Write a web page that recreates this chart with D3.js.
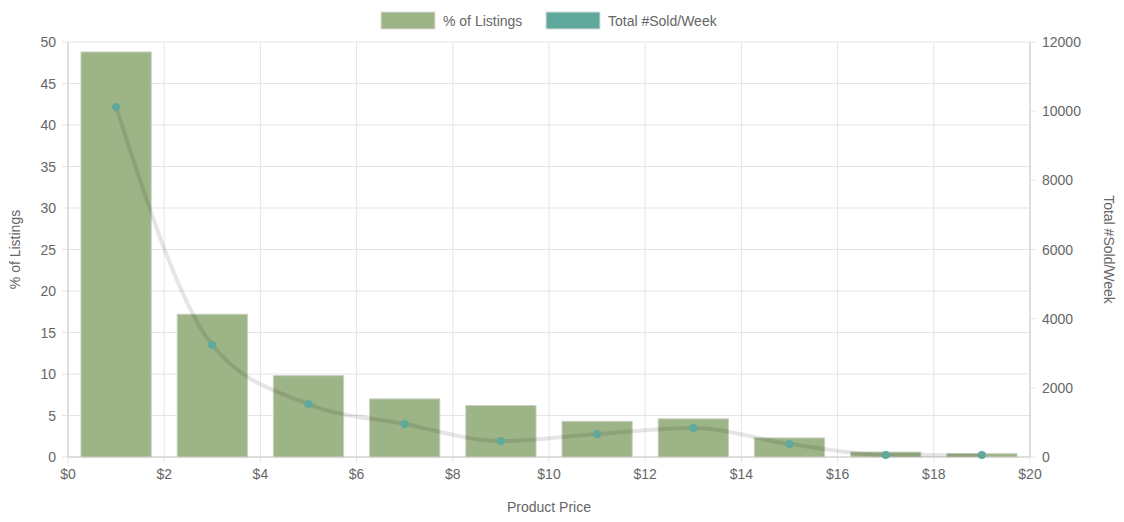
<!DOCTYPE html><html><head><meta charset="utf-8">
<script src="https://cdn.jsdelivr.net/npm/d3@7"></script>
<style>body{margin:0;background:#fff;font-family:"Helvetica Neue",Arial,"Liberation Sans",sans-serif}</style></head><body>
<svg id="c" width="1124" height="522"></svg>
<script>
const centers=[1,3,5,7,9,11,13,15,17,19];
const pctListings=[48.8,17.2,9.8,7.0,6.2,4.3,4.6,2.3,0.6,0.4];
const soldWeek=[10120,3240,1530,955,460,665,840,375,60,60];
const xTicks=[0,2,4,6,8,10,12,14,16,18,20];
const yLeftTicks=[0,5,10,15,20,25,30,35,40,45,50];
const yRightTicks=[0,2000,4000,6000,8000,10000,12000];
const svg=d3.select("#c");
const L=68,R=1030,T=42,B=457;
const x=d3.scaleLinear().domain([0,20]).range([L,R]);
const yl=d3.scaleLinear().domain([0,50]).range([B,T]);
const yr=d3.scaleLinear().domain([0,12000]).range([B,T]);
const txt="#666",grid="#e5e5e5";
const g=svg.append("g");
xTicks.forEach(t=>g.append("line").attr("x1",x(t)).attr("x2",x(t)).attr("y1",T).attr("y2",B+6).attr("stroke",grid));
yLeftTicks.forEach(t=>g.append("line").attr("x1",L-6).attr("x2",R).attr("y1",yl(t)).attr("y2",yl(t)).attr("stroke",grid));
yRightTicks.forEach(t=>g.append("line").attr("x1",R).attr("x2",R+6).attr("y1",yr(t)).attr("y2",yr(t)).attr("stroke",grid));
g.append("line").attr("x1",L).attr("x2",L).attr("y1",T).attr("y2",B).attr("stroke","#ccc");
g.append("line").attr("x1",R).attr("x2",R).attr("y1",T).attr("y2",B).attr("stroke","#ccc");
const bw=x(1.46)-x(0);
svg.selectAll(".bar").data(centers).enter().append("rect")
 .attr("x",d=>x(d)-bw/2).attr("width",bw)
 .attr("y",(d,i)=>yl(pctListings[i])).attr("height",(d,i)=>B-yl(pctListings[i]))
 .attr("fill","#9db486").attr("stroke","#c9cfc3").attr("stroke-width",1);
g.append("line").attr("x1",L).attr("x2",R).attr("y1",B).attr("y2",B).attr("stroke","#ccc");
const line=d3.line().x((d,i)=>x(centers[i])).y(d=>yr(d)).curve(d3.curveMonotoneX);
svg.append("path").datum(soldWeek).attr("d",line).attr("fill","none").attr("stroke","rgba(0,0,0,0.1)").attr("stroke-width",4);
svg.selectAll(".pt").data(soldWeek).enter().append("circle").attr("cx",(d,i)=>x(centers[i])).attr("cy",d=>yr(d)).attr("r",4).attr("fill","#5fa89c");
const fs="14px";
xTicks.forEach(t=>svg.append("text").attr("x",x(t)).attr("y",B+22).attr("text-anchor","middle").attr("fill",txt).style("font-size",fs).text("$"+t));
yLeftTicks.forEach(t=>svg.append("text").attr("x",L-12).attr("y",yl(t)+5).attr("text-anchor","end").attr("fill",txt).style("font-size",fs).text(t));
yRightTicks.forEach(t=>svg.append("text").attr("x",R+12).attr("y",yr(t)+5).attr("fill",txt).style("font-size",fs).text(t));
svg.append("text").attr("x",(L+R)/2).attr("y",512).attr("text-anchor","middle").attr("fill",txt).style("font-size",fs).text("Product Price");
svg.append("text").attr("transform",`translate(20,${(T+B)/2}) rotate(-90)`).attr("text-anchor","middle").attr("fill",txt).style("font-size",fs).text("% of Listings");
svg.append("text").attr("transform",`translate(1104,${(T+B)/2}) rotate(90)`).attr("text-anchor","middle").attr("fill",txt).style("font-size",fs).text("Total #Sold/Week");
const leg=[["% of Listings","#9db486",381],["Total #Sold/Week","#5fa89c",546]];
leg.forEach(([t,c,lx])=>{svg.append("rect").attr("x",lx).attr("y",12).attr("width",54).attr("height",17).attr("fill",c).attr("stroke","#ddd");
 svg.append("text").attr("x",lx+62).attr("y",26).attr("fill",txt).style("font-size",fs).text(t);});
</script></body></html>
